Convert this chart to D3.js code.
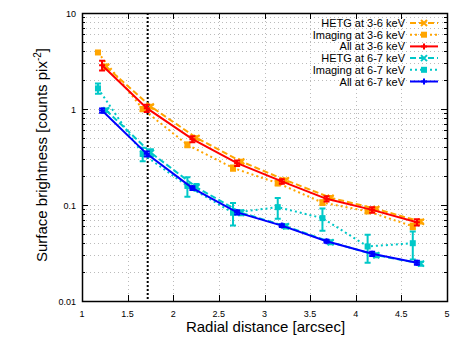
<!DOCTYPE html>
<html>
<head>
<meta charset="utf-8">
<script src="https://cdn.jsdelivr.net/npm/d3@7"></script>
<style>
  body { margin: 0; background: #fff; }
  svg { display: block; font-family: "Liberation Sans", Arial, sans-serif; }
</style>
</head>
<body>
<div class="chart"></div>
<script>
// radial bins (arcsec), each data set drawn slightly shifted
const radiusAll = [1.22, 1.71, 2.21, 2.70, 3.19, 3.68, 4.18, 4.67];
const radiusHetg = [1.265, 1.755, 2.255, 2.745, 3.235, 3.725, 4.225, 4.715];
const radiusImaging = [1.175, 1.665, 2.155, 2.655, 3.145, 3.635, 4.13, 4.625];

// 3-6 keV
const hetg36 = [2.75, 1.06, 0.50, 0.284, 0.181, 0.119, 0.091, 0.067];
const hetg36Err = [0.15, 0.05, 0.02, 0.012, 0.008, 0.005, 0.004, 0.003];
const imaging36 = [3.88, 1.0, 0.424, 0.243, 0.169, 0.106, 0.086, 0.060];
const imaging36Err = [0.15, 0.05, 0.025, 0.015, 0.009, 0.006, 0.004, 0.004];
const all36 = [2.85, 1.02, 0.485, 0.273, 0.176, 0.116, 0.089, 0.066];
const all36Err = [0.33, 0.09, 0.035, 0.018, 0.01, 0.007, 0.006, 0.005];

// 6-7 keV
const hetg67 = [0.97, 0.35, 0.153, 0.083, 0.060, 0.041, 0.030, 0.0245];
const hetg67Err = [0.04, 0.03, 0.012, 0.005, 0.003, 0.002, 0.0015, 0.0012];
const imaging67 = [1.64, 0.34, 0.158, 0.083, 0.095, 0.073, 0.037, 0.040];
const imaging67Err = [0.2, 0.055, 0.036, 0.022, 0.023, 0.019, 0.012, 0.013];
const all67 = [0.965, 0.341, 0.150, 0.0838, 0.061, 0.0419, 0.031, 0.025];
const all67Err = [0.05, 0.02, 0.007, 0.004, 0.002, 0.0015, 0.0015, 0.0012];

const xTicks = [1, 1.5, 2, 2.5, 3, 3.5, 4, 4.5, 5];
const xTickLabels = ['1', '1.5', '2', '2.5', '3', '3.5', '4', '4.5', '5'];
const yTicks = [0.01, 0.1, 1, 10];
const yTickLabels = ['0.01', '0.1', '1', '10'];
const cutRadius = 1.72;

const series = [
  { name: 'HETG at 3-6 keV', x: radiusHetg, y: hetg36, err: hetg36Err, color: '#ffa500', dash: '6,3', marker: 'x' },
  { name: 'Imaging at 3-6 keV', x: radiusImaging, y: imaging36, err: imaging36Err, color: '#ffa500', dash: '2,3', marker: 'square' },
  { name: 'All at 3-6 keV', x: radiusAll, y: all36, err: all36Err, color: '#ff0000', dash: null, marker: 'plus' },
  { name: 'HETG at 6-7 keV', x: radiusHetg, y: hetg67, err: hetg67Err, color: '#00c8c8', dash: '6,3', marker: 'x' },
  { name: 'Imaging at 6-7 keV', x: radiusImaging, y: imaging67, err: imaging67Err, color: '#00c8c8', dash: '2,3', marker: 'square' },
  { name: 'All at 6-7 keV', x: radiusAll, y: all67, err: all67Err, color: '#0000ff', dash: null, marker: 'plus' }
];

const margin = { top: 13, right: 16, bottom: 47, left: 82 };
const width = 463 - margin.left - margin.right;
const height = 348 - margin.top - margin.bottom;

const svg = d3.select('.chart')
  .append('svg')
    .attr('width', 463)
    .attr('height', 348)
  .append('g')
    .attr('transform', `translate(${margin.left},${margin.top})`);

const xScale = d3.scaleLinear().domain([1, 5]).range([0, width]);
const yScale = d3.scaleLog().domain([0.01, 10]).range([height, 0]);

// minor log ticks
const minorY = [];
[0.01, 0.1, 1].forEach(dec => {
  for (let k = 2; k <= 9; k++) minorY.push(dec * k);
});

// grid
const grid = svg.append('g').attr('stroke', '#bbbbbb').attr('stroke-width', 1).attr('stroke-dasharray', '1,3');
grid.selectAll('.gy')
  .data(minorY.concat([0.1, 1]))
  .enter().append('line')
    .attr('x1', 0).attr('x2', width)
    .attr('y1', d => Math.round(yScale(d)) + 0.5)
    .attr('y2', d => Math.round(yScale(d)) + 0.5);
grid.selectAll('.gx')
  .data(xTicks.slice(1, -1))
  .enter().append('line')
    .attr('y1', 0).attr('y2', height)
    .attr('x1', d => Math.round(xScale(d)) + 0.5)
    .attr('x2', d => Math.round(xScale(d)) + 0.5);

// axes (ticks drawn inward, mirrored)
const axisG = svg.append('g').attr('stroke', '#000').attr('stroke-width', 1);
xTicks.slice(1, -1).forEach(t => {
  const px = Math.round(xScale(t)) + 0.5;
  axisG.append('line').attr('x1', px).attr('x2', px).attr('y1', height).attr('y2', height - 6);
  axisG.append('line').attr('x1', px).attr('x2', px).attr('y1', 0).attr('y2', 6);
});
yTicks.concat(minorY).forEach(t => {
  const py = Math.round(yScale(t)) + 0.5;
  const len = yTicks.includes(t) ? 6 : 3;
  axisG.append('line').attr('x1', 0).attr('x2', len).attr('y1', py).attr('y2', py);
  axisG.append('line').attr('x1', width).attr('x2', width - len).attr('y1', py).attr('y2', py);
});
svg.append('rect')
  .attr('x', 0.5).attr('y', 0.5)
  .attr('width', width).attr('height', height)
  .attr('fill', 'none').attr('stroke', '#000').attr('stroke-width', 1.5);

svg.append('g').selectAll('text')
  .data(xTicks)
  .enter().append('text')
    .attr('x', d => xScale(d))
    .attr('y', height + 16)
    .attr('text-anchor', 'middle')
    .attr('font-size', 9)
    .text((d, i) => xTickLabels[i]);

svg.append('g').selectAll('text')
  .data(yTicks)
  .enter().append('text')
    .attr('x', -6)
    .attr('y', d => yScale(d) + 3.5)
    .attr('text-anchor', 'end')
    .attr('font-size', 9)
    .text((d, i) => yTickLabels[i]);

// axis titles
svg.append('text')
  .attr('x', width / 2 + 1)
  .attr('y', height + 31)
  .attr('text-anchor', 'middle')
  .attr('font-size', 15)
  .text('Radial distance [arcsec]');

const yTitle = svg.append('text')
  .attr('transform', `translate(${-margin.left + 47},${height / 2 - 2}) rotate(-90)`)
  .attr('text-anchor', 'middle')
  .attr('font-size', 15);
yTitle.append('tspan').text('Surface brightness [counts pix');
yTitle.append('tspan').attr('dy', -6).attr('font-size', 10).text('-2');
yTitle.append('tspan').attr('dy', 6).text(']');

// vertical cut line
svg.append('line')
  .attr('x1', xScale(cutRadius)).attr('x2', xScale(cutRadius))
  .attr('y1', 0).attr('y2', height)
  .attr('stroke', '#000').attr('stroke-width', 2).attr('stroke-dasharray', '2,2');

// markers
function drawMarker(g, m, px, py, color) {
  if (m === 'square') {
    g.append('rect').attr('x', px - 3).attr('y', py - 3).attr('width', 6).attr('height', 6).attr('fill', color);
  } else if (m === 'x') {
    g.append('path').attr('d', `M${px - 3},${py - 3}L${px + 3},${py + 3}M${px - 3},${py + 3}L${px + 3},${py - 3}`)
      .attr('stroke', color).attr('stroke-width', 2);
  } else {
    g.append('path').attr('d', `M${px - 3},${py}L${px + 3},${py}M${px},${py - 3}L${px},${py + 3}`)
      .attr('stroke', color).attr('stroke-width', 2);
  }
}

const line = d3.line().x(d => xScale(d[0])).y(d => yScale(d[1]));

series.forEach(s => {
  const g = svg.append('g');
  const pts = s.x.map((x, i) => [x, s.y[i], s.err[i]]);
  g.append('path')
    .datum(pts)
    .attr('d', line)
    .attr('fill', 'none')
    .attr('stroke', s.color)
    .attr('stroke-width', 2)
    .attr('stroke-dasharray', s.dash);
  pts.forEach(p => {
    const px = xScale(p[0]);
    const y1 = yScale(p[1] + p[2]);
    const y2 = yScale(Math.max(p[1] - p[2], 0.001));
    g.append('path')
      .attr('d', `M${px},${y1}L${px},${y2}M${px - 3},${y1}L${px + 3},${y1}M${px - 3},${y2}L${px + 3},${y2}`)
      .attr('stroke', s.color).attr('stroke-width', 2).attr('fill', 'none');
    drawMarker(g, s.marker, px, yScale(p[1]), s.color);
  });
});

// legend
const legend = svg.append('g');
series.forEach((s, i) => {
  const ly = 10 + i * 11.7;
  legend.append('text')
    .attr('x', 323).attr('y', ly + 4)
    .attr('text-anchor', 'end')
    .attr('font-size', 11)
    .text(s.name);
  legend.append('line')
    .attr('x1', 328).attr('x2', 356)
    .attr('y1', ly).attr('y2', ly)
    .attr('stroke', s.color).attr('stroke-width', 2)
    .attr('stroke-dasharray', s.dash);
  drawMarker(legend, s.marker, 342, ly, s.color);
});
</script>
</body>
</html>
